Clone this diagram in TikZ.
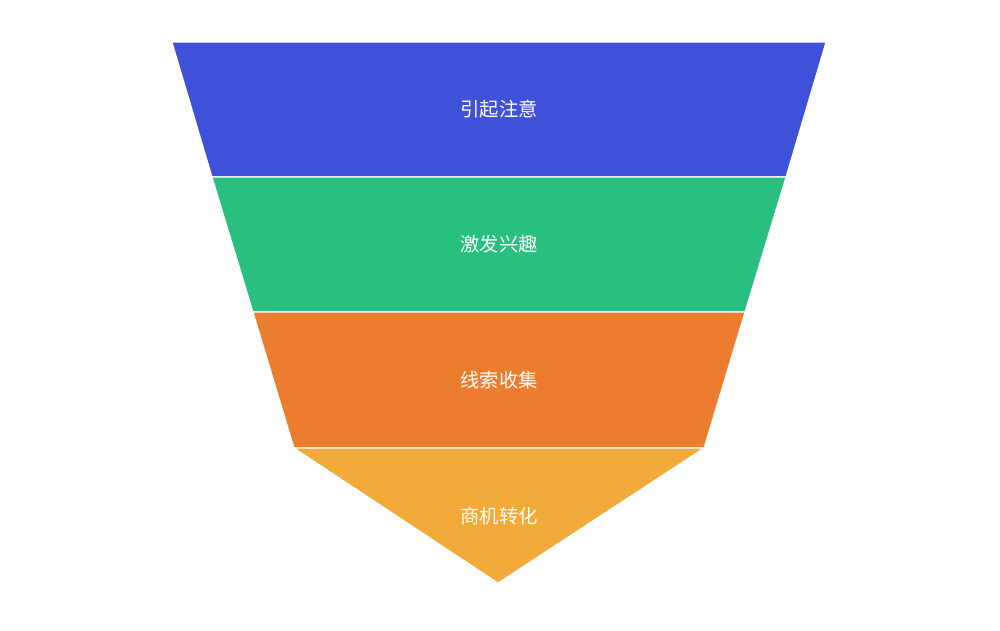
\documentclass[tikz,border=0pt]{standalone}
\usepackage{fontspec}
\newfontfamily\cjk{Noto Sans CJK SC}
\usepackage{tikz}
\usetikzlibrary{positioning}
\usepackage{xcolor}
\definecolor{attn}{HTML}{4051D9}
\definecolor{intr}{HTML}{29BF7F}
\definecolor{lead}{HTML}{ED7D2E}
\definecolor{conv}{HTML}{F2AA3A}

\begin{document}
\begin{tikzpicture}[x=0.02cm,y=-0.02cm,
  stage/.style={draw=white,line width=0.6pt},
  stagetext/.style={text=white,font=\cjk\fontsize{11pt}{13pt}\selectfont}]
\useasboundingbox (0,0) rectangle (1000,630);
\filldraw[stage,fill=attn] (172,42)--(826,42)--(786,177)--(212,177)--cycle;
\filldraw[stage,fill=intr] (212,177)--(786,177)--(745,312)--(253,312)--cycle;
\filldraw[stage,fill=lead] (253,312)--(745,312)--(704,448)--(294,448)--cycle;
\filldraw[stage,fill=conv] (294,448)--(704,448)--(498,583)--cycle;
\node[stagetext] (attention) at (499,109) {引起注意};
\node[stagetext] (interest) at (499,244) {激发兴趣};
\node[stagetext] (leads) at (499,380) {线索收集};
\node[stagetext] (convert) at (499,516) {商机转化};
\end{tikzpicture}
\end{document}
